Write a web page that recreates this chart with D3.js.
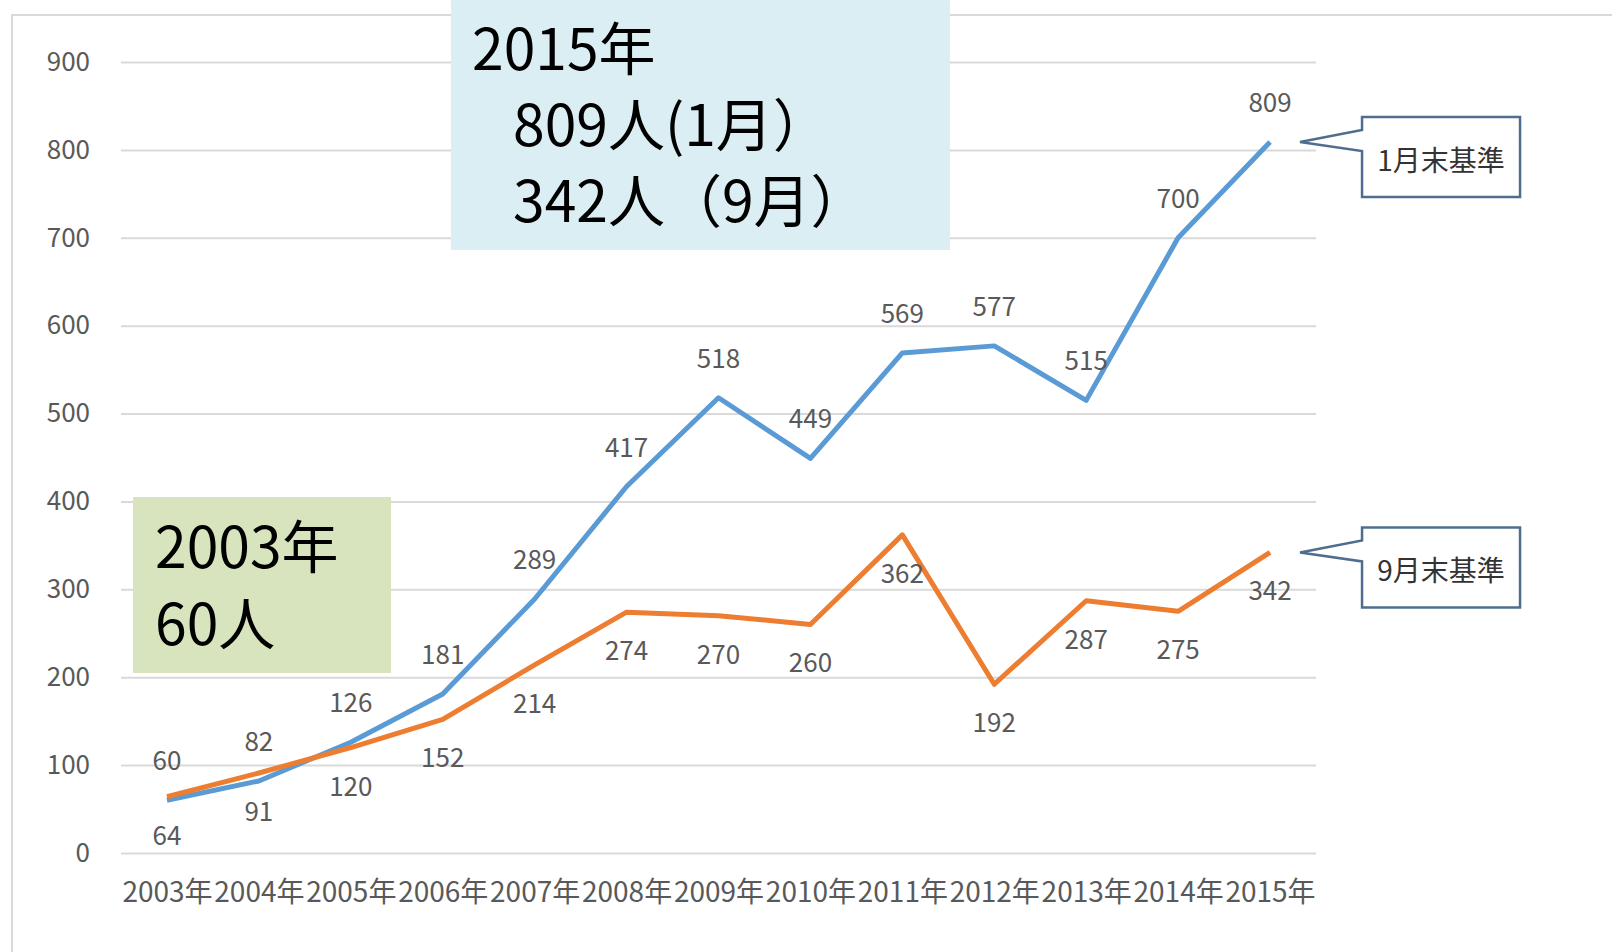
<html>

<head>
    <style>
        body { margin: 0; background: #fff; }
        text { font-family: "Noto Sans CJK JP", "Noto Sans", sans-serif; }
    </style>
</head>

<body>
    <svg id="container" height="952" width="1612"></svg>
</body>
<script src="https://cdn.jsdelivr.net/npm/d3@7"></script>
<script>
    // chart data
    let years = ["2003年", "2004年", "2005年", "2006年", "2007年", "2008年", "2009年",
                 "2010年", "2011年", "2012年", "2013年", "2014年", "2015年"]
    let janValues = [60, 82, 126, 181, 289, 417, 518, 449, 569, 577, 515, 700, 809]
    let sepValues = [64, 91, 120, 152, 214, 274, 270, 260, 362, 192, 287, 275, 342]
    let yTicks = [0, 100, 200, 300, 400, 500, 600, 700, 800, 900]
    let seriesNames = ["1月末基準", "9月末基準"]
    let noteTop = ["2015年", "809人(1月）", "342人（9月）"]
    let noteLeft = ["2003年", "60人"]

    let svg = d3.select("#container")

    let plotLeft = 121, plotRight = 1316, plotTop = 62, plotBottom = 853

    let x = d3.scalePoint()
            .domain(years)
            .range([plotLeft, plotRight])
            .padding(0.5)

    let y = d3.scaleLinear()
            .domain([0, 900])
            .range([plotBottom, plotTop])

    // outer chart frame
    svg.append("rect")
        .attr("x", 12).attr("y", 15)
        .attr("width", 1700).attr("height", 1000)
        .attr("fill", "none")
        .attr("stroke", "#d9d9d9")
        .attr("stroke-width", 2)

    // y axis with gridlines
    let yAxis = svg.append("g")
        .attr("transform", "translate(" + plotLeft + ",0)")
        .call(d3.axisLeft(y).tickValues(yTicks).tickSize(-(plotRight - plotLeft)).tickPadding(31))
    yAxis.select(".domain").remove()
    yAxis.selectAll("line").attr("stroke", "#d9d9d9").attr("stroke-width", 2)
    yAxis.selectAll("text")
        .attr("fill", "#595959")
        .style("font-size", "26px")

    // x axis labels
    let xAxis = svg.append("g")
        .attr("transform", "translate(0," + plotBottom + ")")
        .call(d3.axisBottom(x).tickSize(0).tickPadding(29))
    xAxis.select(".domain").remove()
    xAxis.selectAll("text")
        .attr("fill", "#595959")
        .style("font-size", "28px")

    let series = [
        { name: seriesNames[0], values: janValues, color: "#5B9BD5", offset: -30 },
        { name: seriesNames[1], values: sepValues, color: "#ED7D31", offset: 48 }
    ]

    let line = d3.line()
        .x((d, i) => x(years[i]))
        .y(d => y(d))

    series.forEach(s => {
        svg.append("path")
            .attr("d", line(s.values))
            .attr("fill", "none")
            .attr("stroke", s.color)
            .attr("stroke-width", 5)
            .attr("stroke-linejoin", "round")
    })

    // data labels: January above, September below
    series.forEach(s => {
        svg.selectAll(null)
            .data(s.values)
            .enter()
            .append("text")
            .attr("x", (d, i) => x(years[i]))
            .attr("y", d => y(d) + s.offset)
            .attr("text-anchor", "middle")
            .attr("fill", "#595959")
            .style("font-size", "26px")
            .text(d => d)
    })

    // callouts naming each series at the last point
    series.forEach(s => {
        let last = s.values.length - 1
        let tx = x(years[last]) + 30
        let ty = y(s.values[last])
        let L = tx + 62, R = tx + 220, T = ty - 25, B = ty + 55
        svg.append("path")
            .attr("d", "M" + L + "," + T + "H" + R + "V" + B + "H" + L + "V" + (ty + 9) +
                       "L" + tx + "," + ty + "L" + L + "," + (ty - 12) + "Z")
            .attr("fill", "#fff")
            .attr("stroke", "#4f6d8f")
            .attr("stroke-width", 2.5)
        svg.append("text")
            .attr("x", (L + R) / 2)
            .attr("y", ty + 29)
            .attr("text-anchor", "middle")
            .attr("fill", "#333")
            .style("font-size", "28px")
            .text(s.name)
    })

    // 2015 note box
    svg.append("rect")
        .attr("x", 451).attr("y", 0)
        .attr("width", 499).attr("height", 250)
        .attr("fill", "#DAEEF3")
    svg.selectAll(null)
        .data(noteTop)
        .enter()
        .append("text")
        .attr("x", (d, i) => i == 0 ? 472 : 513)
        .attr("y", (d, i) => 70 + i * 76)
        .attr("fill", "#000")
        .style("font-size", "57px")
        .text(d => d)

    // 2003 note box
    svg.append("rect")
        .attr("x", 133).attr("y", 497)
        .attr("width", 258).attr("height", 176)
        .attr("fill", "#D7E4BD")
    svg.selectAll(null)
        .data(noteLeft)
        .enter()
        .append("text")
        .attr("x", 155)
        .attr("y", (d, i) => 568 + i * 77)
        .attr("fill", "#000")
        .style("font-size", "57px")
        .text(d => d)

</script>

</html>
